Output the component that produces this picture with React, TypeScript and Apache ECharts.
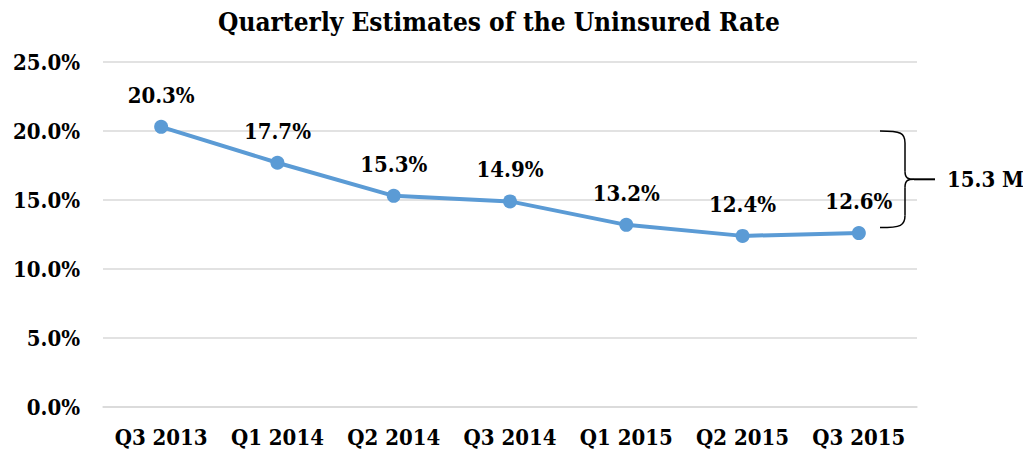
import React, { useEffect, useRef } from "react";
import * as echarts from "echarts";

const categories = ["Q3 2013", "Q1 2014", "Q2 2014", "Q3 2014", "Q1 2015", "Q2 2015", "Q3 2015"];
const rates = [20.3, 17.7, 15.3, 14.9, 13.2, 12.4, 12.6];
const yTicks = [0, 5, 10, 15, 20, 25];
const braceRange = [20, 13];
const braceLabel = "15.3 M";

const FONT = "'DejaVu Serif Condensed', 'Liberation Serif', serif";

export default function App() {
  const ref = useRef<HTMLDivElement>(null);
  useEffect(() => {
    if (!ref.current) return;
    const chart = echarts.init(ref.current, null, { renderer: "svg" });
    chart.setOption({
      animation: false,
      title: {
        text: "Quarterly Estimates of the Uninsured Rate",
        left: 213,
        top: 4,
        textStyle: { fontFamily: FONT, fontWeight: "bold", fontSize: 26, color: "#000" },
      },
      grid: { left: 103, right: 106, top: 62, bottom: 46, containLabel: false },
      xAxis: {
        type: "category",
        data: categories,
        boundaryGap: true,
        axisLine: { show: true, lineStyle: { color: "#D9D9D9", width: 1.5 } },
        axisTick: { show: false },
        axisLabel: {
          interval: 0,
          hideOverlap: false,
          margin: 19,
          fontFamily: FONT,
          fontWeight: "bold",
          fontSize: 22,
          color: "#000",
        },
      },
      yAxis: {
        type: "value",
        min: yTicks[0],
        max: yTicks[yTicks.length - 1],
        interval: 5,
        axisLine: { show: false },
        axisTick: { show: false },
        splitLine: { lineStyle: { color: "#D9D9D9", width: 1.5 } },
        axisLabel: {
          margin: 23,
          fontFamily: FONT,
          fontWeight: "bold",
          fontSize: 22,
          color: "#000",
          formatter: (v: number) => v.toFixed(1) + "%",
        },
      },
      series: [
        {
          type: "line",
          data: rates,
          symbol: "circle",
          symbolSize: 14,
          lineStyle: { color: "#5B9BD5", width: 4 },
          itemStyle: { color: "#5B9BD5" },
          label: {
            show: true,
            position: "top",
            distance: 14,
            fontFamily: FONT,
            fontWeight: "bold",
            fontSize: 22,
            color: "#000",
            formatter: (p: any) => p.value.toFixed(1) + "%",
          },
        },
      ],
    });

    const t = chart.convertToPixel({ yAxisIndex: 0 }, braceRange[0]) as number;
    const b = chart.convertToPixel({ yAxisIndex: 0 }, braceRange[1]) as number;
    const m = (t + b) / 2;
    const xl = 880;
    const xv = 905;
    const xt = 914;
    const xe = 935;
    const st = { stroke: "#000", lineWidth: 1.5, fill: "none" };
    chart.setOption({
      graphic: [
        { type: "bezierCurve", shape: { x1: xl, y1: t, cpx1: xv - 4, cpy1: t, cpx2: xv, cpy2: t + 2, x2: xv, y2: t + 12 }, style: st },
        { type: "line", shape: { x1: xv, y1: t + 12, x2: xv, y2: m - 8 }, style: st },
        { type: "bezierCurve", shape: { x1: xv, y1: m - 8, cpx1: xv, cpy1: m - 1, cpx2: xv + 3, cpy2: m, x2: xt, y2: m }, style: st },
        { type: "line", shape: { x1: xt, y1: m, x2: xe, y2: m }, style: { stroke: "#000", lineWidth: 2 } },
        { type: "bezierCurve", shape: { x1: xt, y1: m, cpx1: xv + 3, cpy1: m, cpx2: xv, cpy2: m + 1, x2: xv, y2: m + 8 }, style: st },
        { type: "line", shape: { x1: xv, y1: m + 8, x2: xv, y2: b - 12 }, style: st },
        { type: "bezierCurve", shape: { x1: xv, y1: b - 12, cpx1: xv, cpy1: b - 2, cpx2: xv - 4, cpy2: b, x2: xl, y2: b }, style: st },
        {
          type: "text",
          x: 947,
          y: m,
          style: {
            text: braceLabel,
            fontFamily: FONT,
            fontWeight: "bold",
            fontSize: 22,
            fill: "#000",
            textVerticalAlign: "middle",
            verticalAlign: "middle",
          },
        },
      ],
    });
    return () => chart.dispose();
  }, []);
  return <div ref={ref} style={{ position: "absolute", left: 0, top: 0, width: 1023, height: 453 }} />;
}
